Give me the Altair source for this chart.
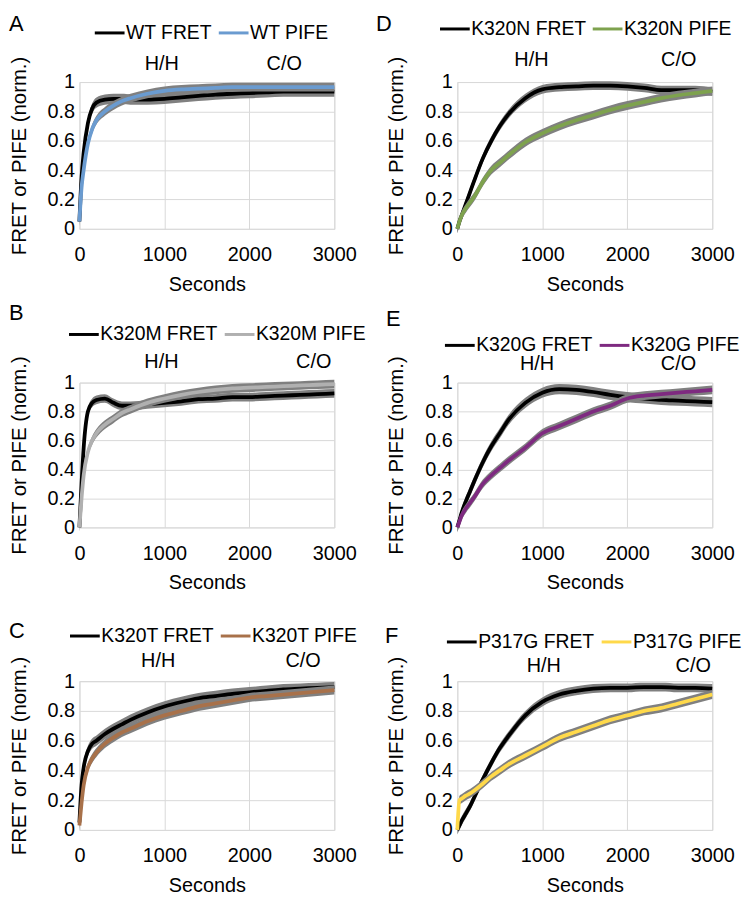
import altair as alt
import pandas as pd

FONT = "Liberation Sans"

# time points (seconds)
T = [0, 25, 50, 100, 150, 200, 300, 400, 500, 600, 800, 1000, 1200, 1400,
     1600, 1800, 2000, 2200, 2400, 2600, 2800, 3000]

# A: WT
WT_FRET = [0.05, 0.35, 0.52, 0.72, 0.82, 0.86, 0.88, 0.885, 0.885, 0.88, 0.88, 0.885,
           0.895, 0.905, 0.915, 0.92, 0.925, 0.93, 0.935, 0.935, 0.935, 0.935]
WT_PIFE = [0.05, 0.28, 0.40, 0.58, 0.68, 0.74, 0.80, 0.84, 0.87, 0.89, 0.92, 0.94,
           0.95, 0.955, 0.96, 0.965, 0.965, 0.965, 0.965, 0.965, 0.965, 0.965]
# B: K320M
M_FRET = [0.0, 0.30, 0.55, 0.80, 0.86, 0.88, 0.89, 0.86, 0.84, 0.84, 0.85, 0.86,
          0.87, 0.885, 0.89, 0.90, 0.90, 0.905, 0.91, 0.915, 0.92, 0.925]
M_PIFE = [0.0, 0.20, 0.36, 0.52, 0.60, 0.65, 0.71, 0.75, 0.79, 0.815, 0.86, 0.89,
          0.915, 0.935, 0.95, 0.96, 0.965, 0.97, 0.975, 0.98, 0.985, 0.99]
# C: K320T
T_FRET = [0.05, 0.30, 0.42, 0.53, 0.58, 0.60, 0.645, 0.68, 0.71, 0.74, 0.79, 0.83,
          0.86, 0.885, 0.90, 0.915, 0.925, 0.935, 0.945, 0.95, 0.955, 0.96]
T_PIFE = [0.03, 0.18, 0.30, 0.42, 0.48, 0.52, 0.58, 0.62, 0.655, 0.68, 0.73, 0.77,
          0.80, 0.83, 0.85, 0.87, 0.89, 0.90, 0.91, 0.92, 0.93, 0.94]
# D: K320N
N_FRET = [0.0, 0.05, 0.09, 0.17, 0.25, 0.33, 0.48, 0.60, 0.70, 0.78, 0.89, 0.95,
          0.965, 0.97, 0.975, 0.975, 0.97, 0.96, 0.945, 0.945, 0.945, 0.935]
N_PIFE = [0.0, 0.05, 0.09, 0.14, 0.18, 0.22, 0.32, 0.40, 0.45, 0.50, 0.59, 0.65,
          0.70, 0.74, 0.775, 0.81, 0.84, 0.865, 0.89, 0.91, 0.925, 0.94]
# E: K320G
G_FRET = [0.0, 0.05, 0.10, 0.18, 0.25, 0.32, 0.45, 0.56, 0.65, 0.74, 0.86, 0.93,
          0.955, 0.95, 0.935, 0.915, 0.90, 0.89, 0.88, 0.875, 0.87, 0.865]
G_PIFE = [0.0, 0.04, 0.08, 0.13, 0.17, 0.21, 0.30, 0.36, 0.41, 0.46, 0.55, 0.65,
          0.70, 0.75, 0.80, 0.84, 0.89, 0.91, 0.92, 0.93, 0.94, 0.95]
# F: P317G
P_FRET = [0.0, 0.03, 0.06, 0.11, 0.16, 0.22, 0.34, 0.45, 0.55, 0.63, 0.77, 0.86,
          0.91, 0.935, 0.95, 0.955, 0.955, 0.96, 0.96, 0.955, 0.955, 0.95]
P_PIFE = [0.0, 0.20, 0.21, 0.23, 0.245, 0.265, 0.31, 0.36, 0.40, 0.44, 0.50, 0.56,
          0.62, 0.66, 0.70, 0.74, 0.77, 0.80, 0.82, 0.85, 0.88, 0.91]

# error half-widths (norm. units)
ERR = {"A": (0.035, 0.03), "B": (0.03, 0.03), "C": (0.035, 0.03),
       "D": (0.03, 0.03), "E": (0.035, 0.03), "F": (0.03, 0.03)}

PANELS = [
    # letter, name, fret, pife, color, H/H x, C/O x
    ("A", "WT", WT_FRET, WT_PIFE, "#6a9bd0", 970, 2410),
    ("D", "K320N", N_FRET, N_PIFE, "#7ea24e", 872, 2605),
    ("B", "K320M", M_FRET, M_PIFE, "#b0b0b0", 965, 2757),
    ("E", "K320G", G_FRET, G_PIFE, "#7e2a80", 939, 2602),
    ("C", "K320T", T_FRET, T_PIFE, "#a8714a", 927, 2633),
    ("F", "P317G", P_FRET, P_PIFE, "#ffd94a", 1017, 2776),
]

# layout tweaks (pixel offsets relative to each plot area)
LAYOUT = {
    "A": dict(h=148, legx=14, legy=-66, anny=-18, letx=-71, lety=-58),
    "D": dict(h=148, legx=-19, legy=-70, anny=-22, letx=-82, lety=-58),
    "B": dict(h=146, legx=-12, legy=-65, anny=-21, letx=-71, lety=-70),
    "E": dict(h=146, legx=-14, legy=-54, anny=-19, letx=-72, lety=-64),
    "C": dict(h=150, legx=-11, legy=-62, anny=-20, letx=-71, lety=-50),
    "F": dict(h=150, legx=-12, legy=-56, anny=-15, letx=-73, lety=-45),
}

W = 257


def panel(letter, name, fret, pife, color, hh, co):
    lay = LAYOUT[letter]
    ef, ep = ERR[letter]
    fl, pl = f"{name} FRET", f"{name} PIFE"
    df_f = pd.DataFrame({"t": T, "v": fret, "s": fl})
    df_f["lo"] = df_f["v"] - ef
    df_f["hi"] = df_f["v"] + ef
    df_p = pd.DataFrame({"t": T, "v": pife, "s": pl})
    df_p["lo"] = df_p["v"] - ep
    df_p["hi"] = df_p["v"] + ep

    xax = alt.Axis(values=[0, 1000, 2000, 3000], format="d", title="Seconds",
                   labelPadding=16, titlePadding=10, labelFlush=False)
    yax = alt.Axis(values=[0, 0.2, 0.4, 0.6, 0.8, 1], format="~g",
                   title="FRET or PIFE (norm.)", labelPadding=5, titlePadding=18,
                   titleFontSize=20.5, labelFlush=False)
    xs = alt.Scale(domain=[0, 3000], nice=False)
    ys = alt.Scale(domain=[0, 1], nice=False)
    cscale = alt.Scale(domain=[fl, pl], range=["#000000", color])
    leg = alt.Legend(orient="none", legendX=lay["legx"], legendY=lay["legy"],
                     direction="horizontal", title=None, labelFontSize=19.5,
                     labelFont=FONT, labelColor="#000000", symbolType="stroke",
                     symbolSize=900, symbolStrokeWidth=3, labelOffset=0,
                     columnPadding=0, padding=0)

    def band(df):
        return alt.Chart(df).mark_area(color="#808080", interpolate="monotone").encode(
            x=alt.X("t:Q", scale=xs, axis=xax),
            y=alt.Y("lo:Q", scale=ys, axis=yax),
            y2="hi:Q",
        )

    def line(df):
        return alt.Chart(df).mark_line(strokeWidth=3.8, interpolate="monotone").encode(
            x=alt.X("t:Q", scale=xs, axis=xax),
            y=alt.Y("v:Q", scale=ys, axis=yax),
            color=alt.Color("s:N", scale=cscale, legend=leg),
        )

    ann = alt.Chart(pd.DataFrame({"x": [hh, co], "lab": ["H/H", "C/O"]})).mark_text(
        fontSize=20, font=FONT, color="#000000", baseline="middle"
    ).encode(
        x=alt.X("x:Q", scale=xs, axis=xax),
        y=alt.value(lay["anny"]),
        text="lab:N",
    )
    let = alt.Chart(pd.DataFrame({"lab": [letter]})).mark_text(
        fontSize=22, font=FONT, color="#000000", align="left", baseline="middle"
    ).encode(
        x=alt.value(lay["letx"]),
        y=alt.value(lay["lety"]),
        text="lab:N",
    )
    return alt.layer(band(df_f), line(df_f), band(df_p), line(df_p), ann, let).properties(
        width=W, height=lay["h"]
    )


charts = [panel(*p) for p in PANELS]

chart = (
    alt.concat(*charts, columns=2, spacing={"row": 155, "column": 124}, bounds="flush")
    .resolve_scale(color="independent")
    .resolve_legend(color="independent")
    .properties(padding=0, background="white")
    .configure_axis(
        gridColor="#d9d9d9", gridWidth=1, domain=False, ticks=False,
        labelFont=FONT, labelFontSize=20, labelColor="#000000",
        titleFont=FONT, titleFontSize=20, titleColor="#000000",
        titleFontWeight="normal",
    )
    .configure_view(stroke="#d9d9d9")
)

chart.save("out.html", embed_options={"renderer": "svg", "actions": False})
